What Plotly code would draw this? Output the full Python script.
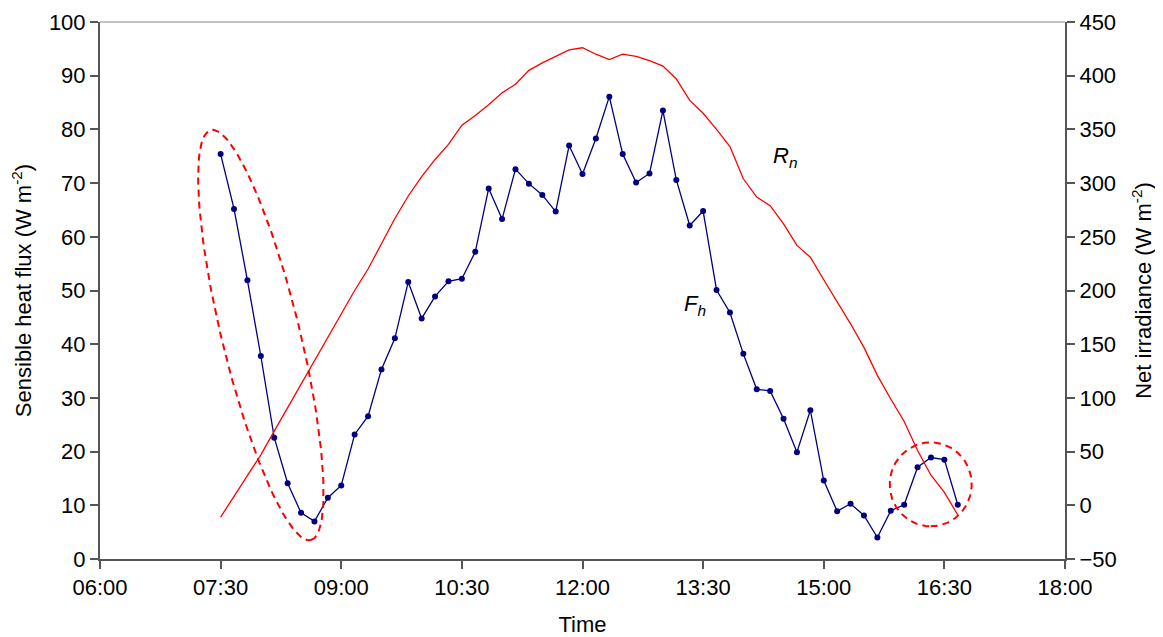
import numpy as np
import plotly.graph_objects as go

# ---------------- data ----------------
times = ["07:30", "07:40", "07:50", "08:00", "08:10", "08:20", "08:30", "08:40", "08:50",
         "09:00", "09:10", "09:20", "09:30", "09:40", "09:50", "10:00", "10:10", "10:20",
         "10:30", "10:40", "10:50", "11:00", "11:10", "11:20", "11:30", "11:40", "11:50",
         "12:00", "12:10", "12:20", "12:30", "12:40", "12:50", "13:00", "13:10", "13:20",
         "13:30", "13:40", "13:50", "14:00", "14:10", "14:20", "14:30", "14:40", "14:50",
         "15:00", "15:10", "15:20", "15:30", "15:40", "15:50", "16:00", "16:10", "16:20",
         "16:30", "16:40"]

fh = [75.4, 65.2, 51.9, 37.8, 22.6, 14.1, 8.6, 7.0, 11.4,
      13.7, 23.2, 26.6, 35.3, 41.1, 51.6, 44.8, 48.9, 51.7,
      52.2, 57.2, 69.0, 63.3, 72.6, 69.9, 67.8, 64.7, 77.0,
      71.7, 78.3, 86.1, 75.4, 70.1, 71.8, 83.5, 70.6, 62.1,
      64.8, 50.1, 45.9, 38.2, 31.6, 31.3, 26.1, 19.9, 27.7,
      14.6, 8.9, 10.3, 8.1, 4.0, 9.0, 10.1, 17.1, 18.9,
      18.5, 10.1]

rn = [-11, 8, 27, 47, 69, 91, 113, 135, 157,
      179, 200, 220, 243, 267, 288, 306, 322, 336,
      354, 363, 373, 384, 392, 405, 412, 418, 424,
      426, 420, 415, 420, 418, 414, 409, 397, 377,
      365, 350, 334, 304, 287, 279, 262, 242, 231,
      210, 190, 169, 147, 121, 99, 78, 51, 28,
      12, -9]

tick_vals = [6, 7.5, 9, 10.5, 12, 13.5, 15, 16.5, 18]
tick_text = ["06:00", "07:30", "09:00", "10:30", "12:00", "13:30", "15:00", "16:30", "18:00"]

x_hours = [int(t[:2]) + int(t[3:]) / 60 for t in times]

# ---------------- layout geometry ----------------
# the page body has an 8px margin, so the figure is made 8px smaller and margins reduced
W, H = 1155, 629
ML, MR, MT, MB = 92, 98, 14, 78
PW, PH = W - ML - MR, H - MT - MB
X0, X1 = 6, 18
Y0, Y1 = 0, 100
px_per_x = PW / (X1 - X0)
px_per_y = PH / (Y1 - Y0)

FONT = "Liberation Sans, Arial, sans-serif"


def ellipse(cx, cy, a_px, b_px, tilt_deg, n=200):
    """ellipse centred at data (cx, cy); semi-axes in pixels, tilt from vertical (clockwise)."""
    t = np.linspace(0, 2 * np.pi, n)
    th = np.deg2rad(tilt_deg)
    u = a_px * np.cos(t)
    v = b_px * np.sin(t)
    dx = u * np.sin(th) + v * np.cos(th)
    dy = u * np.cos(th) - v * np.sin(th)
    return cx + dx / px_per_x, cy - dy / px_per_y


fig = go.Figure()

fig.add_trace(go.Scatter(
    x=x_hours, y=rn, mode="lines", yaxis="y2",
    line=dict(color="#ff0000", width=1.3), name="Rn", hoverinfo="skip"))

fig.add_trace(go.Scatter(
    x=x_hours, y=fh, mode="lines+markers",
    line=dict(color="#000080", width=1.3),
    marker=dict(color="#000080", size=6), name="Fh"))

# highlight ellipses (centre in data units, semi-axes in px)
ex, ey = ellipse(8.0, 41.7, 211, 39, 13.7)
fig.add_trace(go.Scatter(x=ex, y=ey, mode="lines", hoverinfo="skip",
                         line=dict(color="#ff0000", width=2, dash="7px,5px")))
ex, ey = ellipse(16.33, 13.9, 42, 41, 0)
fig.add_trace(go.Scatter(x=ex, y=ey, mode="lines", hoverinfo="skip",
                         line=dict(color="#ff0000", width=2, dash="7px,5px")))

axis_common = dict(
    showgrid=False, zeroline=False, ticks="outside", ticklen=8, tickwidth=1.5,
    tickcolor="#555555", linecolor="#555555", linewidth=2, showline=True,
    tickfont=dict(family=FONT, size=22, color="black"), automargin=False,
)

fig.update_layout(
    width=W, height=H,
    margin=dict(l=ML, r=MR, t=MT, b=MB),
    plot_bgcolor="white", paper_bgcolor="white",
    showlegend=False,
    font=dict(family=FONT, color="black"),
    xaxis=dict(range=[X0, X1], tickvals=tick_vals, ticktext=tick_text,
               title=dict(text="Time", font=dict(family=FONT, size=22), standoff=18),
               **axis_common),
    yaxis=dict(range=[Y0, Y1], dtick=10,
               title=dict(text="Sensible heat flux (W m<sup>-2</sup>)",
                          font=dict(family=FONT, size=22), standoff=12),
               **axis_common),
    yaxis2=dict(range=[-50, 450], dtick=50, overlaying="y", side="right",
                title=dict(text="Net irradiance (W m<sup>-2</sup>)",
                           font=dict(family=FONT, size=22), standoff=20),
                **axis_common),
    shapes=[dict(type="line", xref="paper", yref="paper", x0=0, x1=1, y0=1, y1=1,
                 line=dict(color="#888888", width=1.2))],
    annotations=[
        dict(x=14.52, y=74.8, xref="x", yref="y", showarrow=False,
             text="<i>R<sub>n</sub></i>", font=dict(family=FONT, size=22)),
        dict(x=13.40, y=47.3, xref="x", yref="y", showarrow=False,
             text="<i>F<sub>h</sub></i>", font=dict(family=FONT, size=22)),
    ],
)

fig.write_html("out.html")
